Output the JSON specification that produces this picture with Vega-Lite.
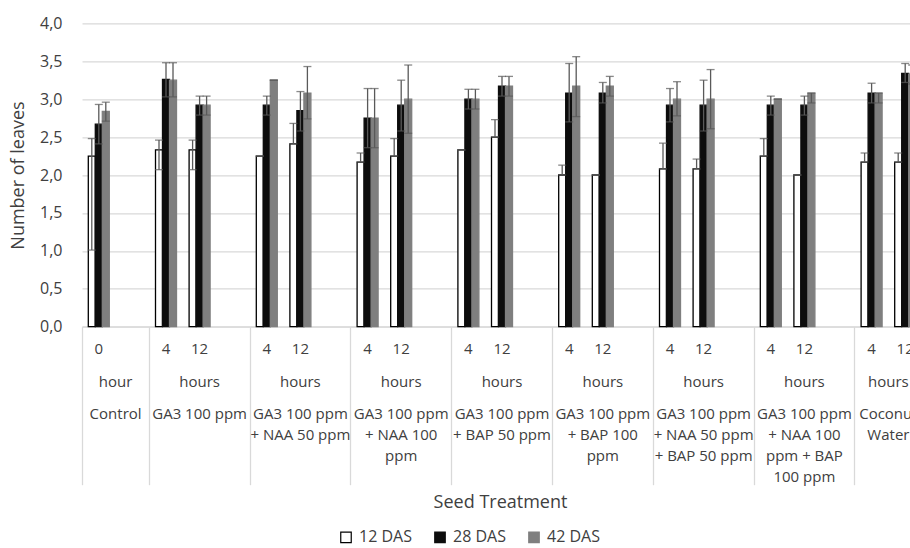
{
  "$schema": "https://vega.github.io/schema/vega-lite/v6.json",
  "autosize": {"type": "none"},
  "padding": {"left": 82, "top": 23.3, "right": 0, "bottom": 221.3},
  "width": 828,
  "height": 303.4,
  "background": "white",
  "config": {
    "font": "Open Sans",
    "view": {"stroke": null},
    "axis": {"labelColor": "#404040", "titleColor": "#404040", "titleFontWeight": "normal"}
  },
  "data": {
    "values": [
      {"slot": "0-0", "s": "12 DAS", "v": 2.25, "lo": 1.01, "hi": 2.48},
      {"slot": "0-0", "s": "28 DAS", "v": 2.67, "lo": 2.41, "hi": 2.93},
      {"slot": "0-0", "s": "42 DAS", "v": 2.84, "lo": 2.71, "hi": 2.96},
      {"slot": "1-4", "s": "12 DAS", "v": 2.33, "lo": 2.07, "hi": 2.46},
      {"slot": "1-4", "s": "28 DAS", "v": 3.26, "lo": 3.03, "hi": 3.48},
      {"slot": "1-4", "s": "42 DAS", "v": 3.25, "lo": 3.03, "hi": 3.48},
      {"slot": "1-12", "s": "12 DAS", "v": 2.33, "lo": 2.07, "hi": 2.46},
      {"slot": "1-12", "s": "28 DAS", "v": 2.92, "lo": 2.79, "hi": 3.04},
      {"slot": "1-12", "s": "42 DAS", "v": 2.92, "lo": 2.79, "hi": 3.04},
      {"slot": "2-4", "s": "12 DAS", "v": 2.25, "lo": 2.25, "hi": 2.25},
      {"slot": "2-4", "s": "28 DAS", "v": 2.92, "lo": 2.79, "hi": 3.04},
      {"slot": "2-4", "s": "42 DAS", "v": 3.25, "lo": 3.25, "hi": 3.25},
      {"slot": "2-12", "s": "12 DAS", "v": 2.41, "lo": 2.41, "hi": 2.68},
      {"slot": "2-12", "s": "28 DAS", "v": 2.85, "lo": 2.58, "hi": 3.1},
      {"slot": "2-12", "s": "42 DAS", "v": 3.08, "lo": 2.74, "hi": 3.43},
      {"slot": "3-4", "s": "12 DAS", "v": 2.17, "lo": 2.17, "hi": 2.29},
      {"slot": "3-4", "s": "28 DAS", "v": 2.75, "lo": 2.36, "hi": 3.14},
      {"slot": "3-4", "s": "42 DAS", "v": 2.75, "lo": 2.36, "hi": 3.14},
      {"slot": "3-12", "s": "12 DAS", "v": 2.25, "lo": 2.25, "hi": 2.48},
      {"slot": "3-12", "s": "28 DAS", "v": 2.92, "lo": 2.58, "hi": 3.25},
      {"slot": "3-12", "s": "42 DAS", "v": 3.0, "lo": 2.55, "hi": 3.45},
      {"slot": "4-4", "s": "12 DAS", "v": 2.33, "lo": 2.33, "hi": 2.33},
      {"slot": "4-4", "s": "28 DAS", "v": 3.0, "lo": 2.87, "hi": 3.13},
      {"slot": "4-4", "s": "42 DAS", "v": 3.0, "lo": 2.87, "hi": 3.13},
      {"slot": "4-12", "s": "12 DAS", "v": 2.5, "lo": 2.5, "hi": 2.73},
      {"slot": "4-12", "s": "28 DAS", "v": 3.17, "lo": 3.04, "hi": 3.3},
      {"slot": "4-12", "s": "42 DAS", "v": 3.17, "lo": 3.04, "hi": 3.3},
      {"slot": "5-4", "s": "12 DAS", "v": 2.0, "lo": 2.0, "hi": 2.13},
      {"slot": "5-4", "s": "28 DAS", "v": 3.08, "lo": 2.7, "hi": 3.47},
      {"slot": "5-4", "s": "42 DAS", "v": 3.17, "lo": 2.77, "hi": 3.56},
      {"slot": "5-12", "s": "12 DAS", "v": 2.0, "lo": 2.0, "hi": 2.0},
      {"slot": "5-12", "s": "28 DAS", "v": 3.08, "lo": 2.95, "hi": 3.22},
      {"slot": "5-12", "s": "42 DAS", "v": 3.17, "lo": 3.04, "hi": 3.3},
      {"slot": "6-4", "s": "12 DAS", "v": 2.08, "lo": 2.08, "hi": 2.42},
      {"slot": "6-4", "s": "28 DAS", "v": 2.92, "lo": 2.7, "hi": 3.14},
      {"slot": "6-4", "s": "42 DAS", "v": 3.0, "lo": 2.78, "hi": 3.23},
      {"slot": "6-12", "s": "12 DAS", "v": 2.08, "lo": 2.08, "hi": 2.21},
      {"slot": "6-12", "s": "28 DAS", "v": 2.92, "lo": 2.58, "hi": 3.25},
      {"slot": "6-12", "s": "42 DAS", "v": 3.0, "lo": 2.61, "hi": 3.39},
      {"slot": "7-4", "s": "12 DAS", "v": 2.25, "lo": 2.25, "hi": 2.48},
      {"slot": "7-4", "s": "28 DAS", "v": 2.92, "lo": 2.79, "hi": 3.04},
      {"slot": "7-4", "s": "42 DAS", "v": 3.0, "lo": 3.0, "hi": 3.0},
      {"slot": "7-12", "s": "12 DAS", "v": 2.0, "lo": 2.0, "hi": 2.0},
      {"slot": "7-12", "s": "28 DAS", "v": 2.92, "lo": 2.79, "hi": 3.04},
      {"slot": "7-12", "s": "42 DAS", "v": 3.08, "lo": 2.95, "hi": 3.08},
      {"slot": "8-4", "s": "12 DAS", "v": 2.17, "lo": 2.17, "hi": 2.29},
      {"slot": "8-4", "s": "28 DAS", "v": 3.08, "lo": 2.95, "hi": 3.21},
      {"slot": "8-4", "s": "42 DAS", "v": 3.08, "lo": 2.95, "hi": 3.08},
      {"slot": "8-12", "s": "12 DAS", "v": 2.17, "lo": 2.17, "hi": 2.29},
      {"slot": "8-12", "s": "28 DAS", "v": 3.34, "lo": 3.22, "hi": 3.47},
      {"slot": "8-12", "s": "42 DAS", "v": 3.33, "lo": 3.2, "hi": 3.45}
    ]
  },
  "layer": [
    {
      "mark": {"type": "bar", "strokeWidth": 1.3},
      "encoding": {
        "x": {
          "field": "slot", "type": "nominal",
          "scale": {
            "domain": ["0-0","0-x","1-4","1-12","1-x","2-4","2-12","2-x","3-4","3-12","3-x","4-4","4-12","4-x","5-4","5-12","5-x","6-4","6-12","6-x","7-4","7-12","7-x","8-4","8-12"],
            "range": [0, 840], "paddingInner": 0, "paddingOuter": 0
          },
          "axis": {
            "orient": "bottom", "title": null, "ticks": false, "domain": true,
            "domainColor": "#d9d9d9", "domainWidth": 1.3,
            "labelExpr": "split(datum.value, '-')[1] == 'x' ? '' : split(datum.value, '-')[1]",
            "labelAngle": 0, "labelFontSize": 15, "labelPadding": 15, "labelOverlap": false, "labelLimit": 300
          }
        },
        "xOffset": {"field": "s", "type": "nominal", "scale": {"domain": ["12 DAS", "28 DAS", "42 DAS"], "paddingInner": 0, "paddingOuter": 0.9}},
        "y": {
          "field": "v", "type": "quantitative", "stack": null,
          "scale": {"domain": [0, 4], "nice": false},
          "axis": {
            "title": "Number of leaves", "titleFontSize": 18, "titleX": -64, "titleY": 151.7, "titleBaseline": "middle", "titleAlign": "center",
            "values": [0, 0.5, 1, 1.5, 2, 2.5, 3, 3.5, 4], "tickCount": 20, "labelOverlap": false,
            "labelExpr": "replace(format(datum.value, '.1f'), '.', ',')",
            "labelFontSize": 16, "labelPadding": 20, "ticks": false, "domain": false,
            "grid": true, "gridColor": "#d9d9d9", "gridWidth": 1.3
          }
        },
        "fill": {
          "field": "s", "type": "nominal", "title": null,
          "scale": {"domain": ["12 DAS", "28 DAS", "42 DAS"], "range": ["#ffffff", "#0d0d0d", "#7f7f7f"]},
          "legend": {
            "orient": "none", "legendX": 256, "legendY": 506, "direction": "horizontal",
            "symbolType": "square", "symbolSize": 110, "symbolStrokeWidth": 1.2,
            "labelFontSize": 16, "labelColor": "#404040", "labelOffset": 5, "columnPadding": 20, "padding": 0
          }
        },
        "stroke": {
          "field": "s", "type": "nominal", "title": null,
          "scale": {"domain": ["12 DAS", "28 DAS", "42 DAS"], "range": ["#000000", "#0d0d0d", "#7f7f7f"]},
          "legend": {
            "orient": "none", "legendX": 256, "legendY": 506, "direction": "horizontal",
            "symbolType": "square", "symbolSize": 110, "symbolStrokeWidth": 1.2,
            "labelFontSize": 16, "labelColor": "#404040", "labelOffset": 5, "columnPadding": 20, "padding": 0
          }
        }
      }
    },
    {
      "mark": {"type": "rule", "color": "#595959", "strokeWidth": 1.3},
      "encoding": {
        "x": {
          "field": "slot", "type": "nominal",
          "axis": {
            "orient": "bottom", "title": null, "labels": false, "domain": false,
            "ticks": true, "bandPosition": 0, "tickSize": 158, "tickColor": "#d9d9d9", "tickWidth": 1.3,
            "tickOpacity": {"condition": {"test": "datum.value == '0-0' || indexof(datum.value, '-4') > 0", "value": 1}, "value": 0}
          }
        },
        "xOffset": {"field": "s", "type": "nominal"},
        "y": {
          "field": "lo", "type": "quantitative",
          "axis": {
            "title": "Number of leaves", "titleFontSize": 18, "titleX": -64, "titleY": 151.7, "titleBaseline": "middle", "titleAlign": "center",
            "values": [0, 0.5, 1, 1.5, 2, 2.5, 3, 3.5, 4], "tickCount": 20, "labelOverlap": false,
            "labelExpr": "replace(format(datum.value, '.1f'), '.', ',')",
            "labelFontSize": 16, "labelPadding": 20, "ticks": false, "domain": false,
            "grid": true, "gridColor": "#d9d9d9", "gridWidth": 1.3
          }
        },
        "y2": {"field": "hi"}
      }
    },
    {
      "mark": {"type": "tick", "color": "#595959", "thickness": 1.3, "size": 8},
      "encoding": {
        "x": {
          "field": "slot", "type": "nominal",
          "axis": {
            "orient": "bottom", "title": null, "ticks": false, "domain": false,
            "labelExpr": "(indexof(datum.value, '-12') > 0 && datum.value != '8-12') ? 'hours' : ''",
            "labelAngle": 0, "labelFontSize": 15, "labelPadding": 48, "labelOverlap": false, "labelLimit": 300
          }
        },
        "xOffset": {"field": "s", "type": "nominal"},
        "y": {
          "field": "hi", "type": "quantitative",
          "axis": {
            "title": "Number of leaves", "titleFontSize": 18, "titleX": -64, "titleY": 151.7, "titleBaseline": "middle", "titleAlign": "center",
            "values": [0, 0.5, 1, 1.5, 2, 2.5, 3, 3.5, 4], "tickCount": 20, "labelOverlap": false,
            "labelExpr": "replace(format(datum.value, '.1f'), '.', ',')",
            "labelFontSize": 16, "labelPadding": 20, "ticks": false, "domain": false,
            "grid": true, "gridColor": "#d9d9d9", "gridWidth": 1.3
          }
        }
      }
    },
    {
      "mark": {"type": "tick", "color": "#595959", "thickness": 1.3, "size": 8},
      "encoding": {
        "x": {
          "field": "slot", "type": "nominal",
          "axis": {
            "orient": "bottom", "title": "Seed Treatment", "titleFontSize": 18, "titleX": 418, "titleY": 176, "titleBaseline": "middle", "titleAlign": "center",
            "ticks": false, "domain": false,
            "labelExpr": "datum.value == '1-12' ? ['GA3 100 ppm'] : datum.value == '2-12' ? ['GA3 100 ppm', '+ NAA 50 ppm'] : datum.value == '3-12' ? ['GA3 100 ppm', '+ NAA 100', 'ppm'] : datum.value == '4-12' ? ['GA3 100 ppm', '+ BAP 50 ppm'] : datum.value == '5-12' ? ['GA3 100 ppm', '+ BAP 100', 'ppm'] : datum.value == '6-12' ? ['GA3 100 ppm', '+ NAA 50 ppm', '+ BAP 50 ppm'] : datum.value == '7-12' ? ['GA3 100 ppm', '+ NAA 100', 'ppm + BAP', '100 ppm'] : ''",
            "labelAngle": 0, "labelFontSize": 15, "labelPadding": 80, "labelLineHeight": 21, "labelOverlap": false, "labelLimit": 300
          }
        },
        "xOffset": {"field": "s", "type": "nominal"},
        "y": {
          "field": "lo", "type": "quantitative",
          "axis": {
            "title": "Number of leaves", "titleFontSize": 18, "titleX": -64, "titleY": 151.7, "titleBaseline": "middle", "titleAlign": "center",
            "values": [0, 0.5, 1, 1.5, 2, 2.5, 3, 3.5, 4], "tickCount": 20, "labelOverlap": false,
            "labelExpr": "replace(format(datum.value, '.1f'), '.', ',')",
            "labelFontSize": 16, "labelPadding": 20, "ticks": false, "domain": false,
            "grid": true, "gridColor": "#d9d9d9", "gridWidth": 1.3
          }
        }
      }
    },
    {
      "mark": {"type": "tick", "opacity": 0},
      "encoding": {
        "x": {
          "field": "slot", "type": "nominal",
          "axis": {
            "orient": "bottom", "title": null, "ticks": false, "domain": false, "labelOffset": 16.8,
            "labelExpr": "datum.value == '0-0' ? 'hour' : datum.value == '8-4' ? 'hours' : ''",
            "labelAngle": 0, "labelFontSize": 15, "labelPadding": 48, "labelOverlap": false, "labelLimit": 300
          }
        },
        "y": {
          "field": "v", "type": "quantitative",
          "axis": {
            "title": "Number of leaves", "titleFontSize": 18, "titleX": -64, "titleY": 151.7, "titleBaseline": "middle", "titleAlign": "center",
            "values": [0, 0.5, 1, 1.5, 2, 2.5, 3, 3.5, 4], "tickCount": 20, "labelOverlap": false,
            "labelExpr": "replace(format(datum.value, '.1f'), '.', ',')",
            "labelFontSize": 16, "labelPadding": 20, "ticks": false, "domain": false,
            "grid": true, "gridColor": "#d9d9d9", "gridWidth": 1.3
          }
        }
      }
    },
    {
      "mark": {"type": "tick", "opacity": 0},
      "encoding": {
        "x": {
          "field": "slot", "type": "nominal",
          "axis": {
            "orient": "bottom", "title": null, "ticks": false, "domain": false, "labelOffset": 16.8,
            "labelExpr": "datum.value == '0-0' ? ['Control'] : datum.value == '8-4' ? ['Coconut', 'Water'] : ''",
            "labelAngle": 0, "labelFontSize": 15, "labelPadding": 80, "labelLineHeight": 21, "labelOverlap": false, "labelLimit": 300
          }
        },
        "y": {
          "field": "v", "type": "quantitative",
          "axis": {
            "title": "Number of leaves", "titleFontSize": 18, "titleX": -64, "titleY": 151.7, "titleBaseline": "middle", "titleAlign": "center",
            "values": [0, 0.5, 1, 1.5, 2, 2.5, 3, 3.5, 4], "tickCount": 20, "labelOverlap": false,
            "labelExpr": "replace(format(datum.value, '.1f'), '.', ',')",
            "labelFontSize": 16, "labelPadding": 20, "ticks": false, "domain": false,
            "grid": true, "gridColor": "#d9d9d9", "gridWidth": 1.3
          }
        }
      }
    }
  ],
  "resolve": {"axis": {"x": "independent"}}
}
